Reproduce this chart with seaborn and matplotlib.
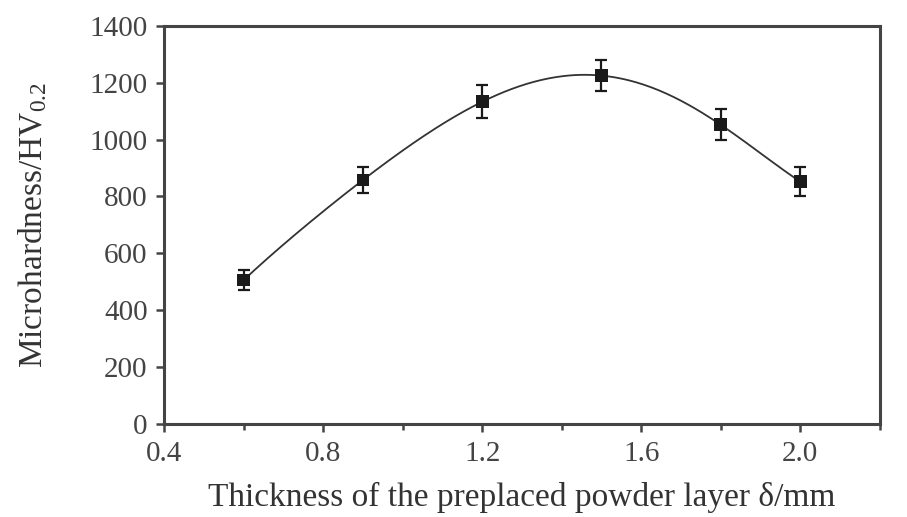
import numpy as np
import matplotlib
matplotlib.use('Agg')
import matplotlib.pyplot as plt
from matplotlib.ticker import MultipleLocator
import seaborn as sns

sns.set_style('ticks')
plt.rcParams['font.family'] = ['Liberation Serif', 'DejaVu Serif']
plt.rcParams['mathtext.fontset'] = 'custom'
plt.rcParams['mathtext.rm'] = 'Liberation Serif'
plt.rcParams['mathtext.it'] = 'Liberation Serif'

# data
thickness = [0.6, 0.9, 1.2, 1.5, 1.8, 2.0]
hardness = [506, 858, 1133, 1225, 1052, 852]
err = [35, 45, 58, 55, 55, 50]

fig = plt.figure(figsize=(9.07, 5.17), dpi=100)
ax = fig.add_axes([0.181, 0.180, 0.789, 0.770])

# smooth curve through the points
coef = np.polyfit(thickness, hardness, len(thickness) - 1)
xs = np.linspace(min(thickness), max(thickness), 300)
ax.plot(xs, np.polyval(coef, xs), color='#333333', lw=1.3, zorder=2)

ax.errorbar(thickness, hardness, yerr=err, fmt='none', ecolor='#1a1a1a',
            elinewidth=1.6, capsize=4, capthick=1.6, zorder=3)
sns.scatterplot(x=thickness, y=hardness, marker='s', s=85, color='#1a1a1a',
                edgecolor='none', ax=ax, zorder=4)

ax.set_xlim(0.4, 2.2)
ax.set_ylim(0, 1400)
ax.xaxis.set_major_locator(MultipleLocator(0.4))
ax.xaxis.set_minor_locator(MultipleLocator(0.2))
ax.yaxis.set_major_locator(MultipleLocator(200))
ax.set_xticks([0.4, 0.8, 1.2, 1.6, 2.0])
ax.set_xticklabels(['0.4', '0.8', '1.2', '1.6', '2.0'])

for sp in ax.spines.values():
    sp.set_color('#444444')
    sp.set_linewidth(2.2)

ax.tick_params(axis='both', which='major', direction='out', length=6, width=1.8,
               color='#444444', labelsize=21, labelcolor='#444444', pad=6)
ax.tick_params(axis='x', which='minor', direction='out', length=4, width=1.8,
               color='#444444')

ax.set_xlabel('Thickness of the preplaced powder layer δ/mm', fontsize=24,
              color='#333333')
ax.set_ylabel(r'Microhardness/HV$_{0.2}$', fontsize=24, color='#333333')
ax.xaxis.set_label_coords(0.50, -0.145)
ax.yaxis.set_label_coords(-0.16, 0.50)

fig.savefig('out.png', dpi=100)
